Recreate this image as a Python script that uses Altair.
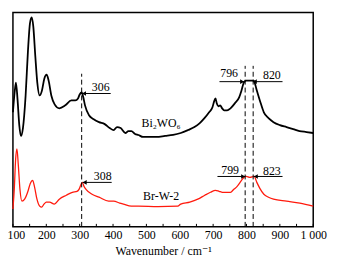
import altair as alt
import pandas as pd

# Black curve: Bi2WO6 (wavenumber, relative intensity)
bi_w = [100, 105, 109, 114, 119, 124, 130, 138, 145, 151, 156, 161, 167, 173, 180, 187, 194, 201, 207, 215,
        225, 239, 257, 275, 287, 295, 300, 306, 311, 316, 328, 342, 358, 375, 390, 402, 412, 423, 437, 446,
        455, 466, 476, 490, 505, 530, 556, 580, 603, 625, 644, 660, 674, 688, 698, 703, 707, 711, 716, 721,
        727, 733, 742, 752, 765, 778, 785, 792, 799, 810, 822, 827, 831, 840, 852, 866, 881, 900, 920, 940,
        959, 980, 1000]
bi_y = [112, 92, 82, 100, 125, 136, 128, 95, 50, 22, 16, 25, 55, 82, 95, 90, 78, 74, 80, 95,
        104, 108, 105, 100, 100, 98, 94, 92, 97, 105, 115, 119, 122, 124, 128, 130, 127, 128, 133, 131,
        131, 134, 135, 137, 137, 137, 136, 135, 133, 130, 127, 123, 118, 112, 107, 101, 98, 103, 106, 105,
        108, 110, 110, 108, 103, 97, 90, 82, 80, 80, 80, 85, 90, 100, 112, 118, 122, 125, 127, 129,
        131, 132, 133]

# Red curve: Br-W-2
br_w = [100, 104, 108, 112, 116, 121, 127, 135, 145, 152, 159, 165, 172, 180, 186, 193, 200, 210, 224, 239,
        260, 278, 292, 298, 303, 308, 313, 319, 337, 358, 387, 402, 420, 431, 455, 476, 535, 594, 603, 630,
        654, 675, 692, 707, 718, 728, 740, 752, 762, 772, 785, 792, 799, 810, 823, 831, 840, 852, 866, 881,
        920, 960, 1000]
br_y = [210, 190, 160, 149, 165, 190, 202, 200, 192, 184, 181, 188, 200, 207, 208, 205, 203, 203, 205, 200,
        196, 193, 192, 190, 186, 183, 187, 190, 195, 198, 202, 202, 204, 205, 207, 207, 207.5, 207, 205, 203,
        200, 196, 193, 191, 192, 193, 193, 193, 190, 187, 181, 178, 177, 178, 177, 183, 189, 195, 198, 200,
        202, 204, 207]

BASE = 228  # convert readings to intensity values (bottom = 0)

# Dashed marker lines
dash_x = [306, 796, 820]
dash_top = [155, 163, 163]

# Peak annotations
ann_labels = ["306", "796", "820", "308", "799", "823"]
ann_lx = [363, 748, 876, 369, 751, 876]
ann_ly = [142, 156, 154, 51, 57, 56]
arr_x1 = [393, 719, 908, 396, 713, 908]
arr_x2 = [307, 793, 819, 309, 796, 822]
arr_y = [135, 147, 147, 45, 51, 51]
arr_dir = ["left", "right", "left", "left", "right", "left"]

# Sample names
name_labels = ["Bi\u2082WO\u2086", "Br-W-2"]
name_x = [544, 544]
name_y = [105, 31]

x_ticks = list(range(100, 1001, 100))
minor_ticks = list(range(100, 1001, 50))

FONT = "Times New Roman, Liberation Serif, DejaVu Serif, serif"
xs = alt.Scale(domain=[100, 1000], nice=False)
ys = alt.Scale(domain=[0, 217], nice=False)

xaxis = alt.Axis(
    values=x_ticks, title="Wavenumber / cm\u207b\u00b9", ticks=False, domain=False, grid=False,
    labelFont=FONT, labelFontSize=12, labelColor="black", labelPadding=3,
    labelOverlap=False, labelBound=False, labelFlush=False,
    labelOffset={"condition": {"test": "datum.value == 100", "value": 3}, "value": 0},
    labelExpr="datum.value == 1000 ? '1 000' : datum.label",
    titleFont=FONT, titleFontSize=12, titleFontWeight="normal", titleColor="black", titlePadding=5)


def X(field):
    return alt.X(field, type="quantitative", scale=xs, axis=xaxis)


def Y(field):
    return alt.Y(field, type="quantitative", scale=ys, axis=None)


bi = pd.DataFrame({"w": bi_w, "v": [BASE - v for v in bi_y]})
br = pd.DataFrame({"w": br_w, "v": [BASE - v for v in br_y]})

black = alt.Chart(bi).mark_line(color="black", strokeWidth=1.8, interpolate="monotone").encode(
    x=X("w"), y=Y("v"))
red = alt.Chart(br).mark_line(color="#ff1a0d", strokeWidth=1.3, interpolate="monotone").encode(
    x=X("w"), y=Y("v"))

dash_df = pd.DataFrame({"x": dash_x, "y0": [0] * 3, "y1": dash_top})
dashes = alt.Chart(dash_df).mark_rule(color="black", strokeWidth=1, strokeDash=[5, 3]).encode(
    x=X("x"), y=Y("y0"), y2="y1:Q")

tick_df = pd.DataFrame({"x": minor_ticks, "y0": [0] * len(minor_ticks), "y1": [3] * len(minor_ticks)})
ticks = alt.Chart(tick_df).mark_rule(color="black", strokeWidth=1).encode(
    x=X("x"), y=Y("y0"), y2="y1:Q")

hx = [x2 + (6 if d == "left" else -6) for x2, d in zip(arr_x2, arr_dir)]
arr_df = pd.DataFrame({"x1": arr_x1, "x2": arr_x2, "y": arr_y, "dir": arr_dir, "hx": hx})
arrows = alt.Chart(arr_df).mark_rule(color="black", strokeWidth=1).encode(
    x=X("x1"), x2="x2:Q", y=Y("y"))
heads = alt.Chart(arr_df).mark_point(filled=True, color="black", size=22, opacity=1).encode(
    x=X("hx"), y=Y("y"),
    shape=alt.Shape("dir:N", scale=alt.Scale(domain=["left", "right"],
                                             range=["triangle-left", "triangle-right"]), legend=None))

ann_df = pd.DataFrame({"t": ann_labels, "x": ann_lx, "y": ann_ly})
ann = alt.Chart(ann_df).mark_text(font=FONT, fontSize=12, color="black").encode(
    x=X("x"), y=Y("y"), text="t:N")

name_df = pd.DataFrame({"t": name_labels, "x": name_x, "y": name_y})
names = alt.Chart(name_df).mark_text(font=FONT, fontSize=12, color="black").encode(
    x=X("x"), y=Y("y"), text="t:N")

chart = alt.layer(black, red, dashes, ticks, arrows, heads, ann, names).properties(
    width=304, height=217,
    autosize=alt.AutoSizeParams(type="none"),
    padding={"left": 5, "top": 3, "right": 18, "bottom": 32},
).configure_view(stroke="black", strokeWidth=1.5).configure_axisX(labelOverlap=False)

chart.save("out.html", embed_options={"renderer": "svg", "actions": False})
